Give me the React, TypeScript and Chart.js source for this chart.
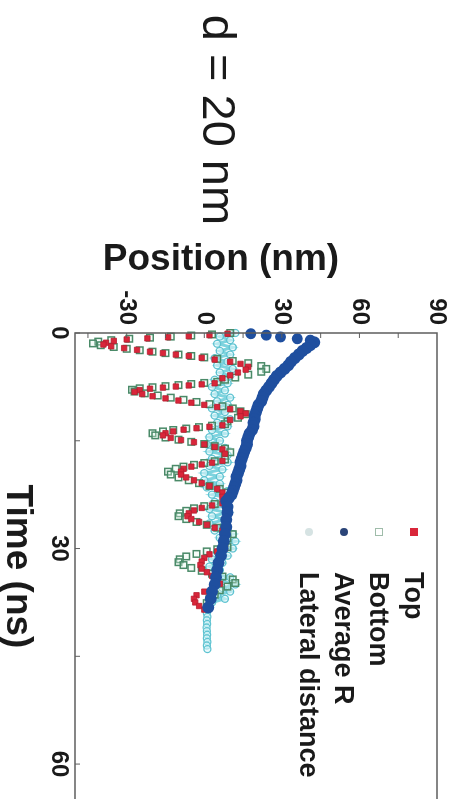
import React, { useEffect, useRef } from "react";
import { Chart, registerables } from "chart.js";

Chart.register(...registerables);

// ---- Data (Time in ns, Position in nm) ----
const timeTicks = [0, 30, 60];
const timeMinorTicks = [0, 15, 30, 45, 60];
const positionTicks = [-30, 0, 30, 60, 90];
const positionMinorTicks = [-45, -30, -15, 0, 15, 30, 45, 60, 75];

const legendLabels = ["Top", "Bottom", "Average R", "Lateral distance"];
const panelTitle = "d = 20 nm";
const xTitle = "Time (ns)";
const yTitle = "Position (nm)";

const topTime = [
  0.1, 0.3, 0.45, 0.6, 0.75, 0.9, 1.1, 1.35, 1.6, 1.85, 2.1, 2.35, 2.6, 2.8, 3.0, 3.2, 3.45, 3.7, 4.0, 4.3, 4.7, 5.1, 5.5, 5.9, 6.3,
  7.0, 7.15, 7.3, 7.45, 7.6, 7.75, 7.95, 8.2, 8.5, 8.8, 9.1, 9.4, 9.7, 10.0, 10.3, 10.6, 10.9, 11.2, 11.6, 12.1,
  12.85, 13.05, 13.25, 13.45, 13.7, 13.95, 14.25, 14.6, 14.9, 15.2, 15.5, 15.85, 16.2, 16.8,
  17.8, 18.05, 18.3, 18.6, 18.9, 19.3, 19.7, 20.1, 20.5, 20.9, 21.3, 21.7, 22.2, 22.8,
  23.7, 24.0, 24.35, 24.7, 25.1, 25.5, 25.9, 26.3, 26.7, 27.1, 27.5, 28.1, 28.8,
  30.0, 30.4, 30.8, 31.3, 31.8, 32.3, 32.8, 33.3, 33.8, 34.3, 34.9, 35.5, 36.0, 36.5, 37.0, 37.5, 38.0, 38.5,
];
const topPos = [
  9, 2, -6, -14, -22, -30, -35, -38, -39, -36, -31, -26, -21, -16, -11, -6, -1, 4, 10, 14, 17, 16, 13, 10, 7,
  4, -1, -6, -11, -16, -21, -25, -27, -24, -20, -15, -10, -5, 0, 5, 10, 14, 16, 14, 10,
  7, 2, -3, -8, -12, -15, -16, -13, -9, -4, 0, 4, 7, 8,
  7, 3, -1, -5, -8, -9, -9, -7, -4, -1, 2, 5, 7, 7,
  7, 3, -1, -4, -6, -6.5, -5, -2, 1, 4, 7, 8, 7,
  8, 5, 2, 0, -1, -1.5, -1, 1, 3, 5, 6, 3, 0, -3, -4, -3.5, -2, 0,
];

const bottomTime = [
  0.0, 0.2, 0.35, 0.5, 0.65, 0.8, 1.0, 1.2, 1.45, 1.7, 1.95, 2.2, 2.4, 2.6, 2.8, 3.0, 3.2, 3.4, 3.6, 3.9, 4.2, 4.6, 5.0, 5.4, 5.8, 6.2, 6.5,
  6.8, 6.95, 7.1, 7.25, 7.4, 7.55, 7.7, 7.9, 8.15, 8.4, 8.7, 9.0, 9.3, 9.6, 9.9, 10.2, 10.5, 10.9, 11.3, 11.8, 12.3,
  12.7, 12.9, 13.1, 13.3, 13.5, 13.7, 13.95, 14.25, 14.55, 14.85, 15.15, 15.45, 15.75, 16.1, 16.6, 17.1,
  17.6, 17.85, 18.1, 18.35, 18.6, 18.9, 19.3, 19.7, 20.1, 20.5, 20.9, 21.3, 21.7, 22.2, 22.8,
  23.5, 23.8, 24.1, 24.4, 24.75, 25.1, 25.5, 25.9, 26.3, 26.7, 27.1, 27.5, 28.0, 28.6, 29.2,
  29.8, 30.1, 30.4, 30.75, 31.1, 31.5, 31.9, 32.3, 32.7, 33.1, 33.5, 33.9, 34.3, 34.8, 35.3, 35.8, 36.4, 37.0, 37.6,
];
const bottomPos = [
  10, 3, -5, -13, -21, -29, -36, -41, -43, -40, -35, -30, -25, -20, -15, -10, -5, 0, 5, 11, 17, 22, 24, 22, 17, 12, 8,
  5, 0, -5, -10, -15, -20, -25, -28, -27, -23, -18, -13, -8, -3, 2, 7, 11, 14, 16, 13, 9,
  8, 3, -2, -7, -12, -16, -20, -19, -15, -10, -5, 0, 4, 8, 10, 8,
  8, 4, 0, -4, -8, -11, -14, -13, -10, -6, -2, 2, 6, 9, 8,
  8, 4, 0, -4, -7, -9.5, -10, -7, -3, 1, 5, 9, 11, 9, 8,
  9, 5, 1, -3, -7, -9.5, -10, -8, -5, -1, 3, 7, 11, 12, 9, 6, 4, 2, 1,
];

const avgTime = [
  0.1, 0.3, 0.55, 0.8, 1.0, 1.3, 1.7, 2.1,
  2.5, 3.0, 3.5, 4.0, 4.5, 5.0, 5.5, 6.0, 6.5, 7.0, 7.5, 8.0, 8.5, 9.0, 9.5, 10.0, 10.5, 11.0, 11.5, 12.0,
  12.5, 13.0, 13.5, 14.0, 14.5, 15.0, 15.5, 16.0, 16.5, 17.0, 17.5, 18.0, 18.5, 19.0, 19.5, 20.0, 20.5, 21.0,
  21.5, 22.0, 22.5, 23.0, 23.4,
  24.2, 25.0, 26.0, 27.0, 28.0, 29.0, 30.0, 31.0, 32.0, 33.0, 34.0, 35.0, 36.0, 37.0, 38.2,
];
const avgPos = [
  18, 24, 29.5, 36, 41, 42.5, 41, 39.5,
  38, 36.5, 35, 33.5, 32.5, 31, 29.5, 28, 27, 26, 25, 24, 23, 22.5, 22, 21, 20.5, 20, 19.5, 19.5,
  19, 19, 18.5, 17.5, 17, 16.5, 16.5, 16, 15.5, 15, 14.5, 14, 14, 13.5, 13, 12.5, 12.5, 12,
  11.5, 11, 10.5, 9.5, 8.5,
  9, 9, 8.5, 8.5, 8, 7.5, 7, 6.5, 5.5, 5, 4.5, 4, 3, 2.5, 1.5,
];

const latTime = [
  0, 0.5, 1, 1.5, 2, 2.5, 3, 3.5, 4, 4.5, 5, 5.5, 6, 6.5, 7, 7.5, 8, 8.5, 9, 9.5,
  10, 10.5, 11, 11.5, 12, 12.5, 13, 13.5, 14, 14.5, 15, 15.5, 16, 16.5, 17, 17.5, 18, 18.5, 19, 19.5,
  20, 20.5, 21, 21.5, 22, 22.5, 23, 23.5, 24, 24.5, 25, 25.5, 26, 26.5, 27, 27.5, 28, 28.5, 29, 29.5,
  30, 30.5, 31, 31.5, 32, 32.5, 33, 33.5, 34, 34.5, 35, 35.5, 36, 36.5, 37, 37.5, 38, 38.5, 39, 39.5,
  40, 40.5, 41, 41.5, 42, 42.5, 43, 43.5, 44,
];
const latPos = [
  12, 6, 10, 5, 11, 6, 10, 4, 9, 5, 11, 6, 10, 4, 9, 3, 8, 4, 10, 5,
  9, 3, 8, 4, 10, 5, 9, 3, 8, 2, 6, 1, 8, 2, 9, 3, 9, 2, 7, 0,
  6, 0, 6, 1, 9, 3, 10, 4, 9, 2, 9, 3, 8, 2, 7, 4, 11, 6, 12, 7,
  11, 5, 9, 3, 7, 2, 6, 3, 10, 6, 12, 7, 10, 5, 8, 3, 2, 1.5, 1, 1.2,
  1, 1.1, 0.9, 1, 1.1, 1, 1.2, 1, 1.2,
];

const COLORS = {
  top: "#d9263a",
  bottomEdge: "#4a8a68",
  avg: "#1f4f9f",
  lateral: "#7dd3de",
  frame: "#5e5e5e",
  text: "#1a1a1a",
};

const FONT = '"Liberation Sans", Arial, Helvetica, sans-serif';

const toPoints = (t: number[], p: number[]) => t.map((x, i) => ({ x, y: p[i] }));

export default function App() {
  const canvasRef = useRef<HTMLCanvasElement>(null);

  useEffect(() => {
    const canvas = canvasRef.current;
    if (!canvas) return;

    const framePlugin = {
      id: "framePlugin",
      afterDatasetsDraw(chart: any) {
        const { ctx, chartArea: a, scales } = chart;
        ctx.save();
        ctx.strokeStyle = COLORS.frame;
        ctx.lineWidth = 1.5;
        ctx.strokeRect(a.left, a.top, a.right - a.left, a.bottom - a.top);
        ctx.lineWidth = 1;
        ctx.beginPath();
        for (const v of timeMinorTicks) {
          const px = scales.x.getPixelForValue(v);
          ctx.moveTo(px, a.bottom);
          ctx.lineTo(px, a.bottom - 5);
        }
        for (const v of positionMinorTicks) {
          const py = scales.y.getPixelForValue(v);
          ctx.moveTo(a.left, py);
          ctx.lineTo(a.left + 5, py);
        }
        ctx.stroke();
        ctx.restore();
      },
    };

    const chart = new Chart(canvas, {
      type: "scatter",
      data: {
        datasets: [
          {
            label: legendLabels[2],
            data: toPoints(avgTime, avgPos),
            showLine: true,
            borderColor: COLORS.avg,
            backgroundColor: COLORS.avg,
            pointBackgroundColor: COLORS.avg,
            pointBorderColor: COLORS.avg,
            pointRadius: (c: any) => (c.dataIndex < 5 ? 2.5 : 3),
            borderWidth: 6,
            segment: {
              borderWidth: (c: any) => (c.p0.parsed.x < 23.3 ? 6.5 : 3),
              borderColor: (c: any) => (c.p0.parsed.x < 0.9 ? "rgba(0,0,0,0)" : COLORS.avg),
            },
            clip: false,
          } as any,
          {
            label: legendLabels[0],
            data: toPoints(topTime, topPos),
            showLine: false,
            pointStyle: "rect",
            pointRadius: 3.8,
            pointBackgroundColor: COLORS.top,
            pointBorderColor: "#b81e30",
            pointBorderWidth: 0.8,
            clip: false,
          } as any,
          {
            label: legendLabels[1],
            data: toPoints(bottomTime, bottomPos),
            showLine: false,
            pointStyle: "rect",
            pointRadius: 4.6,
            pointBackgroundColor: "rgba(225,245,235,0.35)",
            pointBorderColor: COLORS.bottomEdge,
            pointBorderWidth: 1.5,
            clip: false,
          } as any,
          {
            label: legendLabels[3],
            data: toPoints(latTime, latPos),
            showLine: true,
            borderColor: COLORS.lateral,
            borderWidth: 3,
            pointRadius: 3.5,
            pointBackgroundColor: "rgba(220,246,250,0.6)",
            pointBorderColor: "#5fc3d1",
            pointBorderWidth: 1.3,
            clip: false,
          } as any,
        ],
      },
      options: {
        animation: false,
        responsive: false,
        devicePixelRatio: 1,
        events: [],
        layout: { padding: { top: 26, right: 6, bottom: 0, left: 0 } },
        plugins: {
          legend: { display: false },
          tooltip: { enabled: false },
        },
        scales: {
          x: {
            type: "linear",
            position: "bottom",
            min: 0,
            max: 65,
            afterBuildTicks: (s: any) => {
              s.ticks = timeTicks.map((v) => ({ value: v }));
            },
            afterFit: (s: any) => {
              s.height = 75;
            },
            grid: { display: false, drawTicks: false },
            border: { display: false },
            ticks: {
              color: COLORS.text,
              font: { family: FONT, size: 24, weight: "bold" },
              padding: 2,
              maxRotation: 0,
              minRotation: 0,
            },
            title: {
              display: true,
              text: xTitle,
              color: COLORS.text,
              font: { family: FONT, size: 37, weight: "bold" },
              padding: { top: 0, bottom: -5 },
            },
          },
          y: {
            type: "linear",
            position: "left",
            min: -50,
            max: 90,
            afterBuildTicks: (s: any) => {
              s.ticks = positionTicks.map((v) => ({ value: v }));
            },
            afterFit: (s: any) => {
              s.width = 333;
            },
            grid: { display: false, drawTicks: false },
            border: { display: false },
            ticks: {
              color: COLORS.text,
              font: { family: FONT, size: 24, weight: "bold" },
              padding: 8,
            },
            title: { display: false },
          },
        },
      } as any,
      plugins: [framePlugin],
    });

    return () => chart.destroy();
  }, []);

  const legendRows = [
    { label: legendLabels[0], cy: 49, marker: { background: COLORS.top, border: "none", radius: "0" } },
    { label: legendLabels[1], cy: 84, marker: { background: "#ffffff", border: "1.5px solid #9fbcaa", radius: "0" } },
    { label: legendLabels[2], cy: 119, marker: { background: "#2a4478", border: "none", radius: "50%" } },
    { label: legendLabels[3], cy: 154, marker: { background: "#d6e3e3", border: "none", radius: "50%" } },
  ];

  return (
    <div
      style={{
        position: "fixed",
        left: 0,
        top: 0,
        width: 463,
        height: 799,
        overflow: "hidden",
        background: "#ffffff",
      }}
    >
      <div
        style={{
          position: "absolute",
          left: 0,
          top: 0,
          width: 810,
          height: 463,
          transformOrigin: "0 0",
          transform: "translate(463px, 0) rotate(90deg)",
        }}
      >
        <canvas
          ref={canvasRef}
          width={810}
          height={463}
          style={{ position: "absolute", left: 0, top: 0, width: 810, height: 463 }}
        />
        <div
          style={{
            position: "absolute",
            left: 0,
            top: 220,
            width: 240,
            textAlign: "center",
            fontFamily: FONT,
            fontSize: 47,
            lineHeight: "47px",
            color: COLORS.text,
            whiteSpace: "nowrap",
          }}
        >
          {panelTitle}
        </div>
        {legendRows.map((r) => (
          <React.Fragment key={r.label}>
            <div
              style={{
                position: "absolute",
                left: 528,
                top: r.cy - 4,
                width: 8,
                height: 8,
                boxSizing: "border-box",
                background: r.marker.background,
                border: r.marker.border,
                borderRadius: r.marker.radius,
              }}
            />
            <div
              style={{
                position: "absolute",
                left: 572,
                top: r.cy - 17,
                height: 34,
                lineHeight: "34px",
                fontFamily: FONT,
                fontWeight: "bold",
                fontSize: 27,
                color: COLORS.text,
                whiteSpace: "nowrap",
              }}
            >
              {r.label}
            </div>
          </React.Fragment>
        ))}
      </div>
      <div
        style={{
          position: "absolute",
          left: 71,
          top: 240,
          width: 300,
          textAlign: "center",
          fontFamily: FONT,
          fontWeight: "bold",
          fontSize: 37,
          lineHeight: "36px",
          color: COLORS.text,
          whiteSpace: "nowrap",
        }}
      >
        {yTitle}
      </div>
    </div>
  );
}
